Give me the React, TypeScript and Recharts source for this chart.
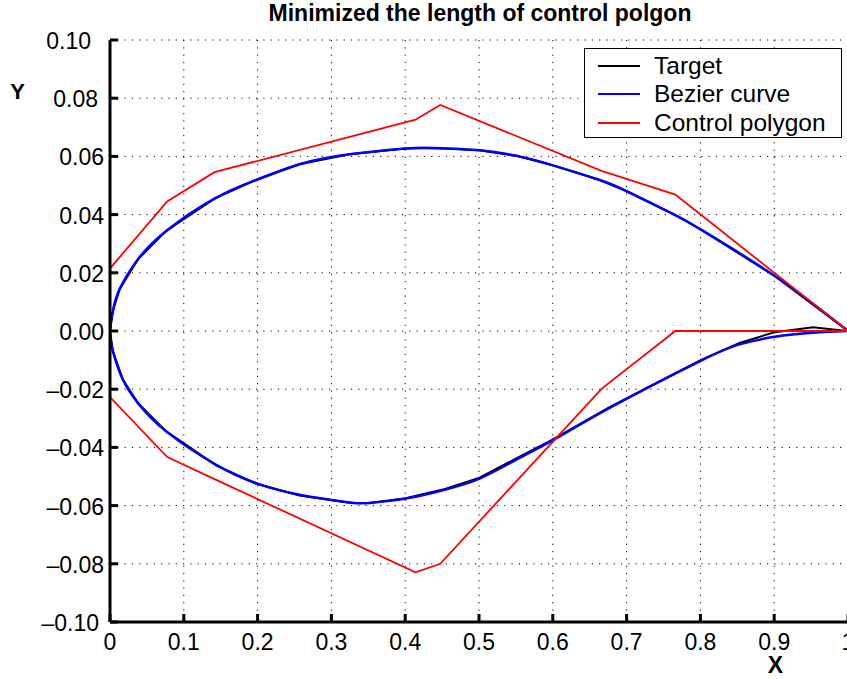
import React from 'react';
import { CartesianGrid, Legend, Line, LineChart, XAxis, YAxis } from 'recharts';

const FONT = '"Liberation Sans", Arial, Helvetica, sans-serif';

const xTicks = [0, 0.1, 0.2, 0.3, 0.4, 0.5, 0.6, 0.7, 0.8, 0.9, 1];
const xTickLabels = ['0', '0.1', '0.2', '0.3', '0.4', '0.5', '0.6', '0.7', '0.8', '0.9', '1'];
const yTicks = [-0.1, -0.08, -0.06, -0.04, -0.02, 0, 0.02, 0.04, 0.06, 0.08, 0.1];
const yTickLabels = ['–0.10', '–0.08', '–0.06', '–0.04', '–0.02', '0.00', '0.02', '0.04', '0.06', '0.08', '0.10'];

const seriesNames = ['Target', 'Bezier curve', 'Control polygon'];

// Bezier curve, upper surface from trailing edge to nose, then lower surface back
const bezierX = [
  1, 0.9007, 0.8004, 0.766, 0.6997, 0.6635, 0.599, 0.5505, 0.5008, 0.437, 0.4005, 0.3246, 0.2568, 0.198,
  0.1416, 0.0762, 0.0377, 0.0129, 0.004, 0,
  0.004, 0.0174, 0.0377, 0.0762, 0.1439, 0.198, 0.2568, 0.3246, 0.3517, 0.4005, 0.451, 0.5008, 0.5505,
  0.599, 0.677, 0.799, 0.853, 0.9007, 0.9526, 1,
];
const bezierY = [
  0, 0.0189, 0.0349, 0.0398, 0.0481, 0.0519, 0.057, 0.0602, 0.0621, 0.0629, 0.0627, 0.0607, 0.0573, 0.0519,
  0.0455, 0.0344, 0.0246, 0.0143, 0.007, 0,
  -0.007, -0.0167, -0.0247, -0.0345, -0.046, -0.0523, -0.0563, -0.0589, -0.0591, -0.0576, -0.0547, -0.0507, -0.0442,
  -0.0377, -0.0264, -0.0104, -0.0046, -0.002, -0.0006, 0,
];

// target section points
const targetX = [
  1, 0.9007, 0.8004, 0.766, 0.6997, 0.6635, 0.599, 0.5505, 0.5008, 0.437, 0.4005, 0.3246, 0.2568, 0.198,
  0.1416, 0.0762, 0.0377, 0.0129, 0.004, 0,
  0.004, 0.0174, 0.0377, 0.0762, 0.1439, 0.198, 0.2568, 0.3246, 0.3517, 0.4005, 0.451, 0.5008, 0.5505,
  0.599, 0.677, 0.799, 0.853, 0.9007, 0.9526, 1,
];
const targetY = [
  0, 0.0189, 0.0349, 0.0398, 0.0481, 0.0519, 0.057, 0.0602, 0.0621, 0.0629, 0.0627, 0.0607, 0.0573, 0.0519,
  0.0455, 0.0344, 0.0246, 0.0143, 0.007, 0,
  -0.007, -0.0167, -0.0247, -0.0345, -0.0462, -0.0525, -0.0565, -0.059, -0.0591, -0.0575, -0.0545, -0.0504, -0.0438,
  -0.0374, -0.0262, -0.0102, -0.0041, -0.0004, 0.0013, 0,
];

const polygonX = [1, 0.766, 0.666, 0.4475, 0.414, 0.1416, 0.0775, 0, 0, 0.0775, 0.1416, 0.414, 0.4475, 0.666, 0.766, 1];
const polygonY = [
  0, 0.0469, 0.055, 0.0777, 0.0726, 0.0546, 0.0445, 0.0215,
  -0.0227, -0.0433, -0.0509, -0.0829, -0.08, -0.0199, 0, 0,
];

const toPoints = (xs: number[], ys: number[]) => xs.map((x, i) => ({ x, y: ys[i] }));
const targetPts = toPoints(targetX, targetY);
const bezierPts = toPoints(bezierX, bezierY);
const polygonPts = toPoints(polygonX, polygonY);

const W = 870;
const H = 679;
const MARGIN = { top: 40, right: 22, bottom: 27, left: 40 };
const Y_AXIS_W = 70;
const X_AXIS_H = 30;
const TICK_LEN = 8;
const AXIS_LINE = { stroke: '#000', strokeWidth: 3 };
const TICK_LINE = { stroke: '#000', strokeWidth: 3 };

// small nudges seen on a few of the y labels in the original figure
const yLabelNudge: Record<string, number> = { '0.10': -13, '0.08': -6, '–0.10': -5 };

const XTick = (props: any) => {
  const { x, y, payload } = props;
  const label = xTickLabels[xTicks.findIndex((t) => Math.abs(t - payload.value) < 1e-9)];
  return (
    <text x={x} y={y + 28} textAnchor="middle" fontFamily={FONT} fontSize={23} fill="#000">
      {label}
    </text>
  );
};

const YTick = (props: any) => {
  const { x, y, payload } = props;
  const label = yTickLabels[yTicks.findIndex((t) => Math.abs(t - payload.value) < 1e-9)];
  const nudge = yLabelNudge[label] ?? 0;
  return (
    <text x={x - 6 + nudge} y={y + 9} textAnchor="end" fontFamily={FONT} fontSize={23} fill="#000">
      {label}
    </text>
  );
};

const renderLegend = (props: any) => {
  const payload = [...(props.payload || [])].sort(
    (a: any, b: any) => seriesNames.indexOf(a.value) - seriesNames.indexOf(b.value)
  );
  return (
    <div
      style={{
        position: 'relative',
        width: 256,
        height: 88,
        border: '1.5px solid #000',
        background: '#fff',
        fontFamily: FONT,
        fontSize: 24.5,
        color: '#000',
      }}
    >
      {payload.map((entry: any, i: number) => (
        <div
          key={entry.value}
          style={{ position: 'absolute', left: 0, top: 3 + i * 28.3, height: 28, display: 'flex', alignItems: 'center', whiteSpace: 'nowrap' }}
        >
          <span style={{ display: 'inline-block', marginLeft: 13, width: 42, height: 2, background: entry.color }} />
          <span style={{ marginLeft: 14 }}>{entry.value}</span>
        </div>
      ))}
    </div>
  );
};

export default function App() {
  return (
    <div style={{ position: 'absolute', left: 0, top: 0, width: 847, height: 679, overflow: 'hidden', background: '#fff' }}>
      <LineChart width={W} height={H} margin={MARGIN}>
        <CartesianGrid stroke="#000" strokeWidth={1} strokeDasharray="1.2 6.1" />
        <XAxis
          dataKey="x"
          type="number"
          domain={[0, 1]}
          ticks={xTicks}
          interval={0}
          allowDataOverflow
          height={X_AXIS_H}
          tickLine={TICK_LINE}
          tickSize={-TICK_LEN}
          tickMargin={TICK_LEN}
          tick={<XTick />}
          axisLine={AXIS_LINE}
        />
        <XAxis
          xAxisId="top"
          orientation="top"
          dataKey="x"
          type="number"
          domain={[0, 1]}
          ticks={xTicks}
          interval={0}
          allowDataOverflow
          height={0}
          tickLine={TICK_LINE}
          tickSize={-TICK_LEN}
          tick={false}
          axisLine={AXIS_LINE}
        />
        <YAxis
          type="number"
          domain={[-0.1, 0.1]}
          ticks={yTicks}
          interval={0}
          allowDataOverflow
          width={Y_AXIS_W}
          tickLine={TICK_LINE}
          tickSize={-TICK_LEN}
          tickMargin={TICK_LEN}
          tick={<YTick />}
          axisLine={AXIS_LINE}
        />
        <YAxis
          yAxisId="right"
          orientation="right"
          type="number"
          domain={[-0.1, 0.1]}
          ticks={yTicks}
          interval={0}
          allowDataOverflow
          width={0}
          tickLine={TICK_LINE}
          tickSize={-TICK_LEN}
          tick={false}
          axisLine={AXIS_LINE}
        />
        <Line data={targetPts} dataKey="y" name="Target" type="linear" stroke="#000000" strokeWidth={2} dot={false} isAnimationActive={false} />
        <Line data={bezierPts} dataKey="y" name="Bezier curve" type="natural" stroke="#0000ff" strokeWidth={2.5} dot={false} isAnimationActive={false} />
        <Line data={polygonPts} dataKey="y" name="Control polygon" type="linear" stroke="#ff0000" strokeWidth={1.8} dot={false} isAnimationActive={false} />
        <Legend
          layout="vertical"
          align="center"
          verticalAlign="middle"
          content={renderLegend}
          wrapperStyle={{ left: 584, top: 48, width: 258 }}
        />
      </LineChart>
      <svg width={847} height={679} style={{ position: 'absolute', left: 0, top: 0, pointerEvents: 'none' }}>
        <text x={480} y={21} textAnchor="middle" fontFamily={FONT} fontWeight="bold" fontSize={23} fill="#000">
          Minimized the length of control polgon
        </text>
        <text x={17.5} y={99} textAnchor="middle" fontFamily={FONT} fontWeight="bold" fontSize={22} fill="#000">
          Y
        </text>
        <text x={775.3} y={672.5} textAnchor="middle" fontFamily={FONT} fontWeight="bold" fontSize={23} fill="#000">
          X
        </text>
      </svg>
    </div>
  );
}
